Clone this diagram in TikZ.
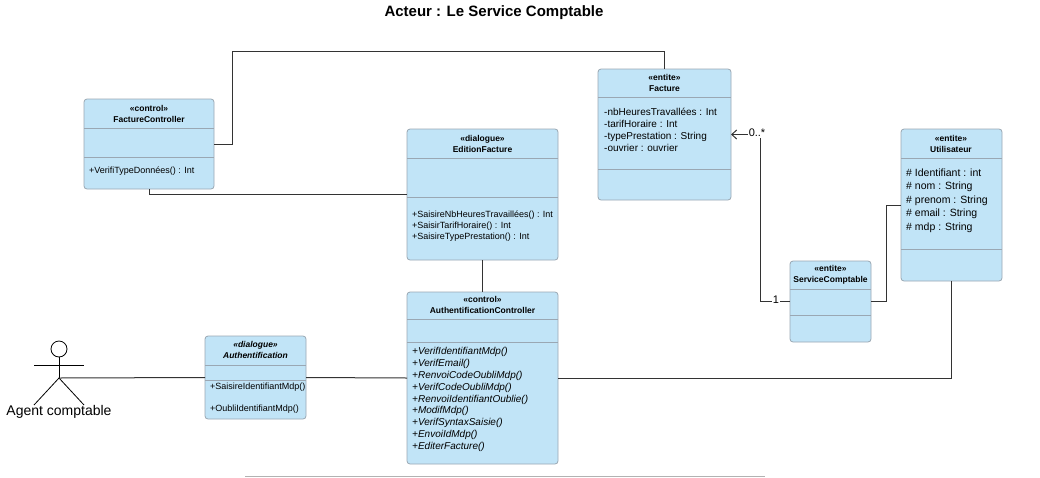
\documentclass[tikz,border=0pt]{standalone}
\usepackage{fontspec}
\setmainfont{Liberation Sans}
\usetikzlibrary{arrows.meta}

\definecolor{classfill}{HTML}{C1E4F7}
\definecolor{classedge}{HTML}{9AA7B3}
\definecolor{wire}{HTML}{333333}

\tikzset{
  classbox/.style={draw=classedge, fill=classfill, rounded corners=3pt, line width=0.8pt, inner sep=0, outer sep=0},
  sepline/.style={draw=classedge, line width=0.8pt},
  wireline/.style={draw=wire, line width=1pt},
  classtitle/.style={font=\fontsize{8.5}{11}\selectfont\bfseries, align=center, inner sep=0},
  members/.style={font=\fontsize{9}{11}\selectfont, align=left, anchor=north west, inner sep=0},
  multiplicity/.style={font=\fontsize{11}{12}\selectfont, fill=white, inner sep=1pt}
}

\begin{document}
\begin{tikzpicture}[x=1pt, y=-1pt]

\useasboundingbox (0,0) rectangle (1040,477);

% Title
\node (title) at (494,13) [font=\fontsize{15}{17}\selectfont\bfseries] {Acteur : Le Service Comptable};

% Classes
\node (facturectrl) at (149,144) [classbox, minimum width=130, minimum height=90] {};
\node (edition) at (482.5,194.5) [classbox, minimum width=151, minimum height=131] {};
\node (authctrl) at (482.5,378) [classbox, minimum width=151, minimum height=172] {};
\node (facture) at (664.5,134.5) [classbox, minimum width=133, minimum height=131] {};
\node (utilisateur) at (951.5,205) [classbox, minimum width=101, minimum height=152] {};
\node (service) at (830.5,301.5) [classbox, minimum width=81, minimum height=81] {};
\node (authdialog) at (255.5,377.5) [classbox, minimum width=101, minimum height=83] {};

% Compartment lines
\foreach \c/\y in {facturectrl/128, facturectrl/157, edition/158, edition/197, authctrl/319, authctrl/342,
                   facture/97, facture/169, utilisateur/158, utilisateur/249, service/289, service/315,
                   authdialog/365, authdialog/380} {
  \draw [sepline] (\c.west |- 0,\y) -- (\c.east |- 0,\y);
}

% Class names
\node (facturectrlname) at (149,113.5) [classtitle] {<<control>>\\FactureController};
\node (editionname) at (482.5,143.5) [classtitle] {<<dialogue>>\\EditionFacture};
\node (authctrlname) at (482.5,305) [classtitle] {<<control>>\\AuthentificationController};
\node (facturename) at (664.5,83) [classtitle] {<<entite>>\\Facture};
\node (utilisateurname) at (951,143.5) [classtitle] {<<entite>>\\Utilisateur};
\node (servicename) at (830.5,274.5) [classtitle] {<<entite>>\\ServiceComptable};
\node (authdialogname) at (255.5,349.5) [classtitle, font=\fontsize{8.5}{11}\selectfont\bfseries\itshape] {<<dialogue>>\\Authentification};

% Members
\node (facturectrlops) at (89,166.5) [members] {+VerifiTypeDonnées() : Int};
\node (editionops) at (412,211) [members] {+SaisireNbHeuresTravaillées() : Int\\+SaisirTarifHoraire() : Int\\+SaisireTypePrestation() : Int};
\node (authctrlops) at (412,347) [members, font=\fontsize{10}{11.9}\selectfont\itshape] {+VerifIdentifiantMdp()\\+VerifEmail()\\+RenvoiCodeOubliMdp()\\+VerifCodeOubliMdp()\\+RenvoiIdentifiantOublie()\\+ModifMdp()\\+VerifSyntaxSaisie()\\+EnvoiIdMdp()\\+EditerFacture()};
\node (factureattrs) at (604,107.5) [members, font=\fontsize{10}{12.2}\selectfont] {-nbHeuresTravallées : Int\\-tarifHoraire : Int\\-typePrestation : String\\-ouvrier : ouvrier};
\node (utilisateurattrs) at (906,168.5) [members, font=\fontsize{10.5}{13.5}\selectfont] {\# Identifiant : int\\\# nom : String\\\# prenom : String\\\# email : String\\\# mdp : String};
\node (authdialogop1) at (210,383) [members] {+SaisireIdentifiantMdp()};
\node (authdialogop2) at (210,405) [members] {+OubliIdentifiantMdp()};

% Actor
\node (head) at (59,349) [circle, draw=black, line width=0.8pt, minimum size=16, inner sep=0, outer sep=0] {};
\coordinate (hip) at (59,378);
\coordinate (armleft) at (34,365);
\coordinate (armright) at (84,365);
\coordinate (footleft) at (34,405);
\coordinate (footright) at (84,405);
\draw [line width=0.8pt] (head) -- (hip);
\draw [line width=0.8pt] (armleft) -- (armright);
\draw [line width=0.8pt] (footleft) -- (hip) -- (footright);
\node (actorname) at (59,412) [font=\fontsize{14}{16}\selectfont] {Agent comptable};

% Connectors
\coordinate (topleft) at (232,51);
\coordinate (bendfacture) at (760,134.5);
\coordinate (bendutil) at (886,205);
\coordinate (bendauth) at (951.5,378);

\draw [wireline] (facturectrl.east) -| (topleft) -| (facture.north);
\draw [wireline] (facturectrl.south) |- (edition.west);
\draw [wireline] (edition.south) -- (authctrl.north);
\draw [wireline] (hip) -- (authdialog.west);
\draw [wireline] (authdialog.east) -- (authctrl.west);
\draw [wireline] (authctrl.east) -- (bendauth) -- (utilisateur.south);
\draw [wireline] (service.east) -| (bendutil) -- (utilisateur.west);
\draw [wireline, -{Straight Barb[length=5pt, width=9pt]}] (service.west) -| (bendfacture) -- (facture.east);

% Multiplicities
\node (multmany) at (757,133) [multiplicity] {0..*};
\node (multone) at (776,300) [multiplicity] {1};

% Bottom rule
\coordinate (ruleleft) at (245,476);
\coordinate (ruleright) at (765,476);
\draw [draw=black!30, line width=1pt] (ruleleft) -- (ruleright);

\end{tikzpicture}
\end{document}
